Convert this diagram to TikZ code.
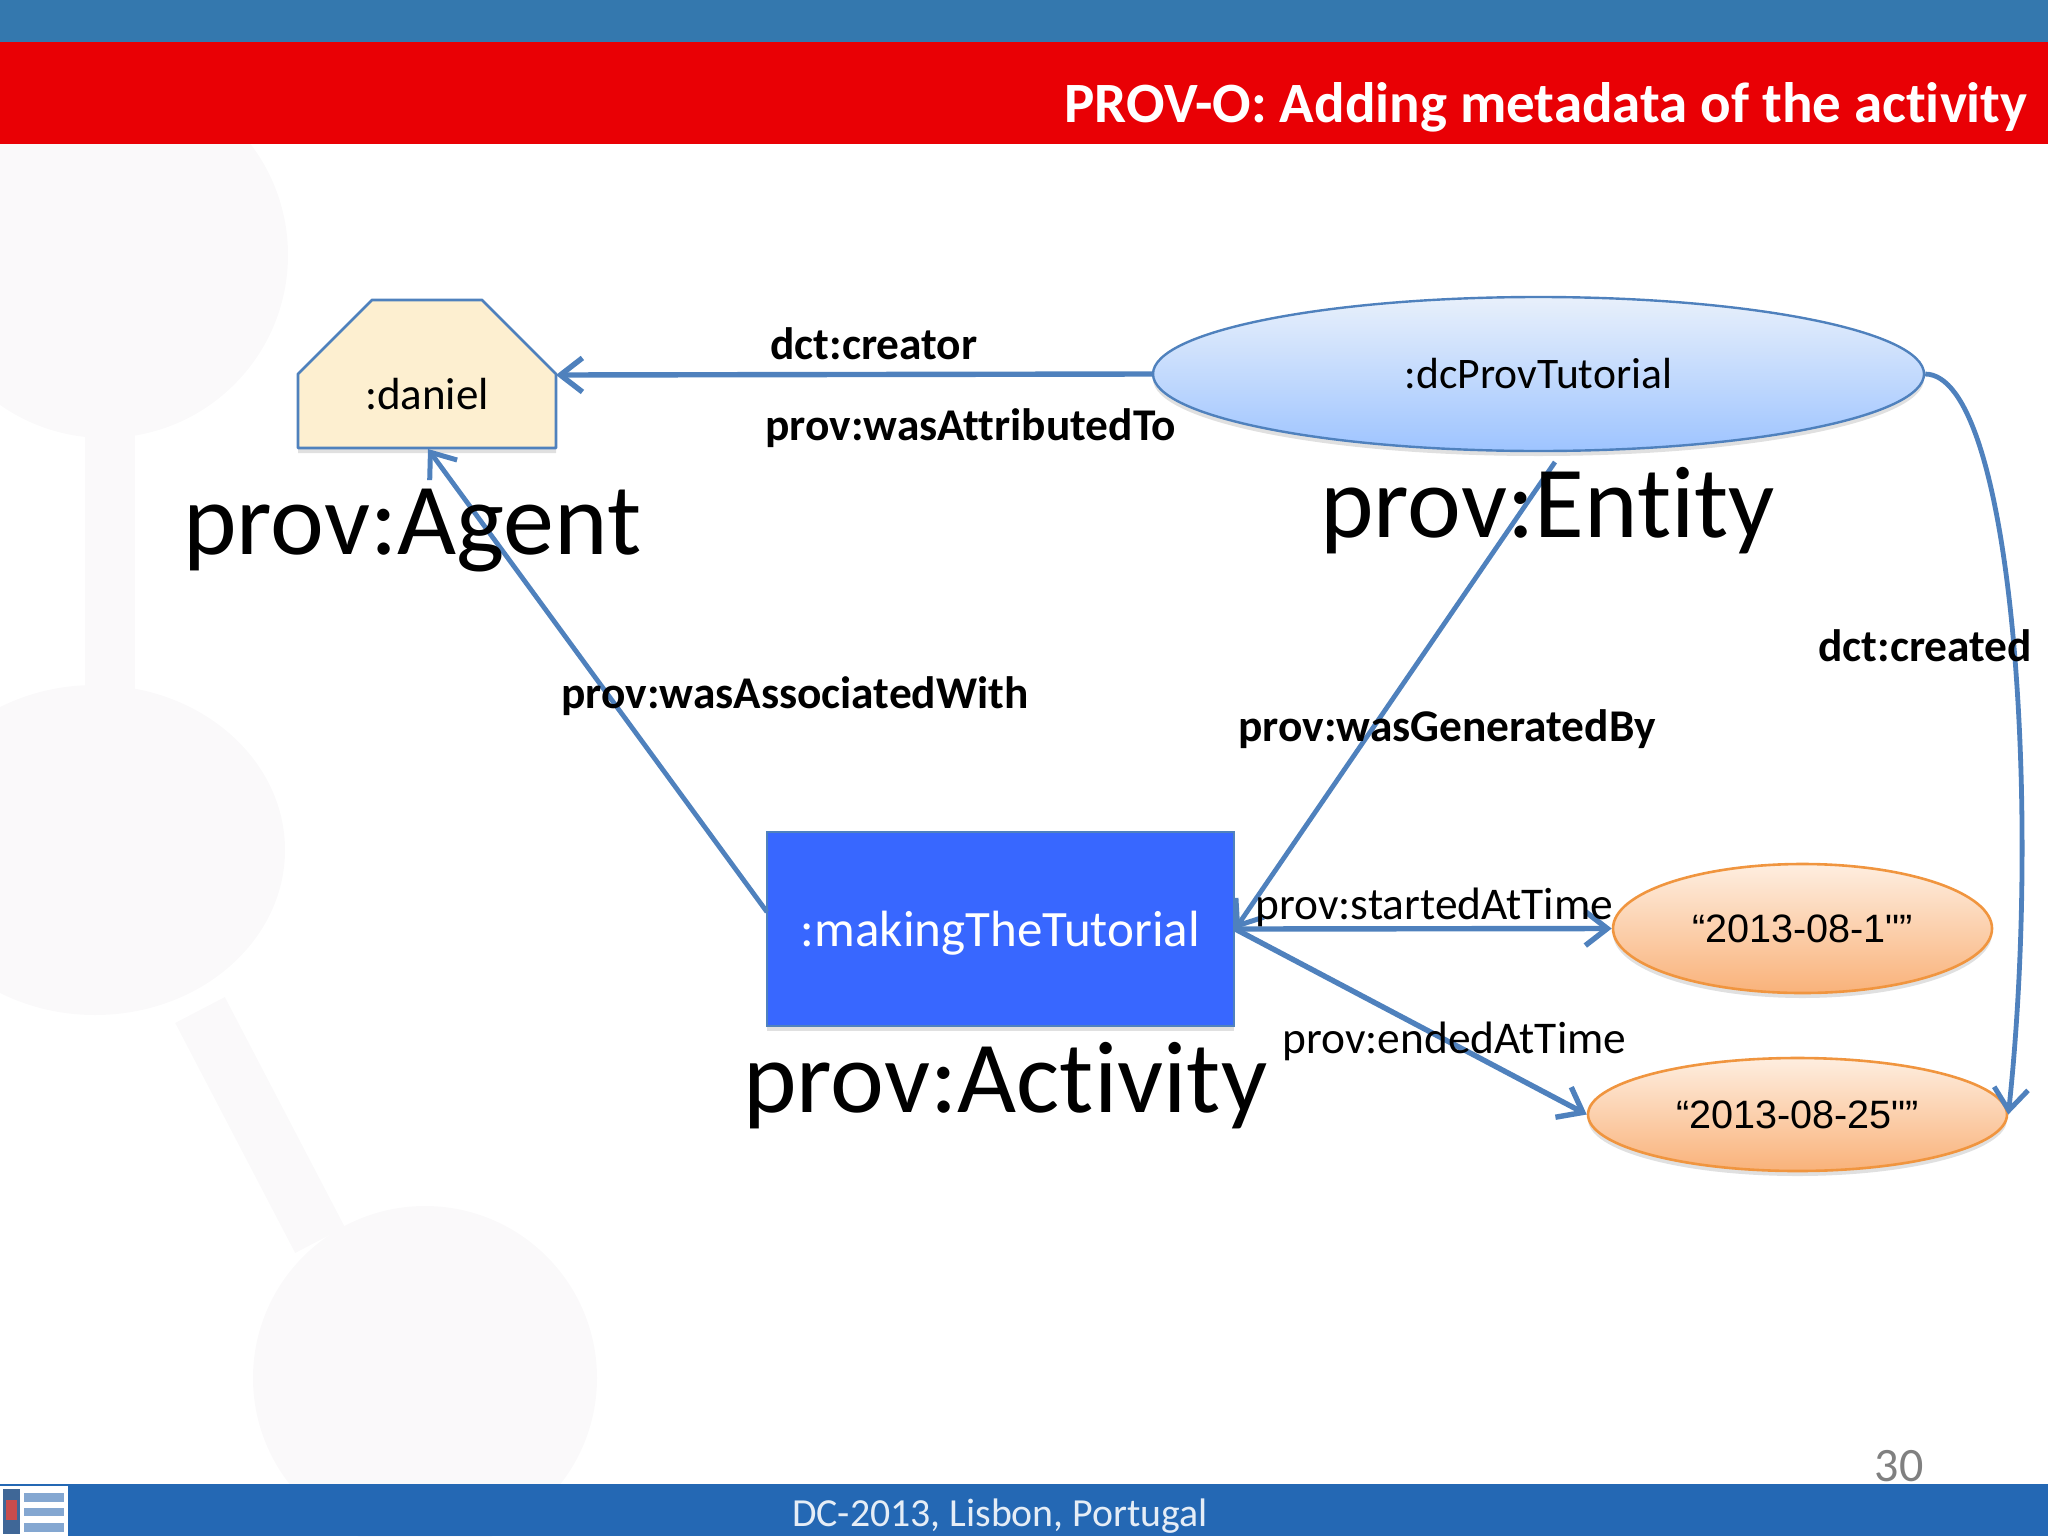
\documentclass[tikz,border=0pt]{standalone}
\usepackage{fontspec}
\setmainfont[Ligatures=NoCommon]{Carlito}
\newfontfamily\arialf{Liberation Sans}
\usetikzlibrary{arrows.meta,shapes.geometric,shadows}
\definecolor{barblue}{HTML}{3478AE}
\definecolor{barred}{HTML}{E90005}
\definecolor{footblue}{HTML}{2468B4}
\definecolor{edgeblue}{HTML}{4F81BD}
\definecolor{wm}{HTML}{FAF9FA}
\definecolor{agentfill}{HTML}{FDEFD0}
\definecolor{actfill}{HTML}{3867FF}
\definecolor{orangeedge}{HTML}{F0953F}
\tikzset{
  softshadow/.style={drop shadow={shadow xshift=0pt,shadow yshift=-2.5pt,opacity=.12,fill=black}},
  entitynode/.style={ellipse,draw=edgeblue,line width=1.2pt,inner sep=0pt,softshadow},
  datenode/.style={ellipse,draw=orangeedge,line width=1.3pt,top color={rgb,255:red,254;green,238;blue,224},bottom color={rgb,255:red,249;green,178;blue,122},inner sep=0pt,softshadow},
  link/.style={draw=edgeblue,line width=2.7pt,-{Straight Barb[length=11pt,width=17pt,line width=2.7pt]}},
  thinlink/.style={draw=edgeblue,line width=2.4pt,-{Straight Barb[length=11pt,width=17pt,line width=2.5pt]}},
  boldlabel/.style={inner sep=0pt,anchor=west,font=\fontsize{22.7}{25}\selectfont\bfseries},
  plainlabel/.style={inner sep=0pt,anchor=west,font=\fontsize{22.7}{25}\selectfont},
  biglabel/.style={inner sep=0pt,anchor=west,font=\fontsize{51}{56}\selectfont},
}
\begin{document}
\begin{tikzpicture}[x=0.5pt,y=-0.5pt]
\useasboundingbox (0,0) rectangle (2048,1536);
% watermark
\fill[wm] (105,255) circle[radius=183];
\fill[wm] (95,850) ellipse[x radius=190,y radius=165];
\fill[wm] (425,1378) circle[radius=172];
\fill[wm] (85,420) rectangle (135,700);
\draw[wm,line width=28pt] (200,1010) -- (320,1240);
% bars
\fill[barblue] (0,0) rectangle (2048,42);
\fill[barred] (0,42) rectangle (2048,144);
\fill[footblue] (0,1484) rectangle (2048,1536);
\node[inner sep=0pt,anchor=east,text=white,font=\fontsize{28.5}{31}\selectfont\bfseries] (title) at (2028,107) {PROV-O: Adding metadata of the activity};
\node[inner sep=0pt,text=white!88!footblue,font=\fontsize{19.9}{22}\selectfont] (footer) at (1000,1516) {DC-2013, Lisbon, Portugal};
\node[inner sep=0pt,text=black!50,font=\fontsize{24}{26}\selectfont] (pagenum) at (1899,1466) {30};
% logo
\fill[white] (0,1486) rectangle (68,1536);
\fill[edgeblue!80!black] (3,1489) rectangle (20,1534);
\fill[red!70!black!70] (6,1500) rectangle (17,1520);
\fill[edgeblue!70] (24,1493) rectangle (64,1502);
\fill[edgeblue!70] (24,1508) rectangle (64,1516);
\fill[edgeblue!70] (24,1523) rectangle (64,1532);
% agent polygon
\coordinate (dE) at (556,375);
\coordinate (dS) at (428,449);
\draw[edgeblue,line width=1.4pt,fill=agentfill,softshadow,line join=round]
  (298,374) -- (372,300) -- (482,300) -- (556,374) -- (556,448) -- (298,448) -- cycle;
\node[inner sep=0pt,font=\fontsize{22.5}{25}\selectfont] (daniel) at (427,394) {:daniel};
% other nodes
\node[entitynode,minimum width=385.5pt,minimum height=77pt,top color={rgb,255:red,232;green,240;blue,251},bottom color={rgb,255:red,158;green,196;blue,255}] (entity) at (1538.5,374) {\fontsize{21.8}{24}\selectfont :dcProvTutorial};
\node[rectangle,draw=edgeblue,line width=1.2pt,fill=actfill,minimum width=233.5pt,minimum height=97pt,inner sep=0pt,softshadow,text=white,text height=17.2pt,text depth=0pt] (act) at (1000.5,929) {\fontsize{25.5}{30}\selectfont :makingTheTutorial};
\node[datenode,minimum width=189.5pt,minimum height=64.5pt] (start) at (1802.5,928.5) {\arialf\fontsize{19.8}{24}\selectfont “2013-08-1"”};
\node[datenode,minimum width=209.5pt,minimum height=56.5pt] (end) at (1797.5,1114.5) {\arialf\fontsize{19.8}{24}\selectfont “2013-08-25"”};
% connectors
\coordinate (genstart) at (1555,462);
\coordinate (assocstart) at (767,912);
\draw[link] (entity.west) -- (dE);
\draw[thinlink] (assocstart) -- (dS);
\draw[thinlink] (genstart) -- (act.east);
\draw[link] (act.east) -- (start.west);
\draw[link] (act.east) -- (end.west);
\draw[thinlink] (entity.east) .. controls (2012,375) and (2042,800) .. (end.east);
% labels
\node[boldlabel] (l1) at (770,344) {dct:creator};
\node[boldlabel] (l2) at (765,428) {prov:wasAttributedTo};
\node[boldlabel] (l3) at (561,696) {prov:wasAssociatedWith};
\node[boldlabel] (l4) at (1238,729) {prov:wasGeneratedBy};
\node[boldlabel] (l5) at (1818,646) {dct:created};
\node[plainlabel] (l6) at (1255,907) {prov:startedAtTime};
\node[plainlabel] (l7) at (1282,1041) {prov:endedAtTime};
\node[biglabel] (b1) at (183,531) {prov:Agent};
\node[biglabel] (b2) at (1320,511) {prov:Entity};
\node[biglabel] (b3) at (743,1086) {prov:Activity};
\end{tikzpicture}
\end{document}
